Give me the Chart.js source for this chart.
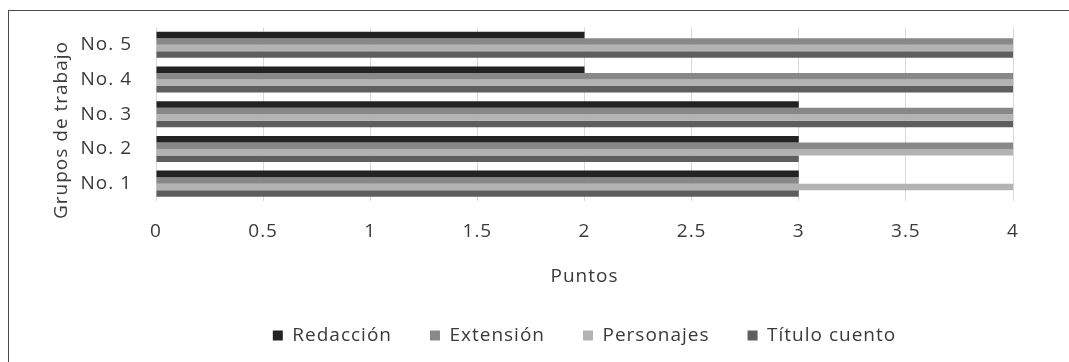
<!DOCTYPE html>
<html>
<head>
<meta charset="utf-8">
<script src="https://cdn.jsdelivr.net/npm/chart.js@4/dist/chart.umd.min.js"></script>
<style>
  html, body { margin: 0; padding: 0; background: #ffffff; }
  #wrap { position: relative; width: 1069px; height: 362px; overflow: hidden; }
  #frame { position: absolute; left: 8px; top: 10px; right: -2px; bottom: -2px;
           border-top: 1px solid #4a4a4a; border-left: 1px solid #4a4a4a; pointer-events: none; }
  canvas { position: absolute; left: 0; top: 0; }
</style>
</head>
<body>
<div id="wrap">
  <canvas id="chart" width="1069" height="362"></canvas>
  <div id="frame"></div>
</div>
<script>
// Groups, top to bottom
const categories = ['No. 5', 'No. 4', 'No. 3', 'No. 2', 'No. 1'];

// Points per criterion
const redaccion    = [2, 2, 3, 3, 3];
const extension    = [4, 4, 4, 4, 3];
const personajes   = [4, 4, 4, 4, 4];
const tituloCuento = [4, 4, 4, 3, 3];

const xTickLabels = ['0', '0.5', '1', '1.5', '2', '2.5', '3', '3.5', '4'];

const FONT = 'Open Sans';
const SIZE = 19;
const TEXT = '#3a3a3a';
const SPACING = '1px';

// Slightly wider letter spacing for all canvas text
const spacingPlugin = {
  id: 'spacing',
  beforeUpdate(chart) { chart.ctx.letterSpacing = SPACING; },
  beforeDraw(chart) { chart.ctx.letterSpacing = SPACING; }
};

// Rotated title for the category axis
const yTitlePlugin = {
  id: 'yTitle',
  afterDraw(chart) {
    const ctx = chart.ctx;
    ctx.save();
    ctx.letterSpacing = SPACING;
    ctx.font = SIZE + 'px "' + FONT + '"';
    ctx.fillStyle = TEXT;
    ctx.textAlign = 'center';
    ctx.textBaseline = 'middle';
    ctx.translate(62, 130);
    ctx.rotate(-Math.PI / 2);
    ctx.fillText('Grupos de trabajo', 0, 0);
    ctx.restore();
  }
};

new Chart(document.getElementById('chart'), {
  type: 'bar',
  data: {
    labels: categories,
    datasets: [
      { label: 'Redacción',     data: redaccion,    backgroundColor: '#232323' },
      { label: 'Extensión',     data: extension,    backgroundColor: '#888888' },
      { label: 'Personajes',    data: personajes,   backgroundColor: '#b3b3b3' },
      { label: 'Título cuento', data: tituloCuento, backgroundColor: '#5e5e5e' }
    ]
  },
  options: {
    indexAxis: 'y',
    responsive: false,
    animation: false,
    layout: { padding: { top: 15, left: 0, right: 56, bottom: 7 } },
    datasets: { bar: { categoryPercentage: 0.75, barPercentage: 1.0, borderWidth: 0 } },
    scales: {
      x: {
        min: 0, max: 4,
        ticks: {
          stepSize: 0.5,
          padding: 19,
          color: TEXT,
          font: { family: FONT, size: SIZE },
          callback: (v, i) => xTickLabels[i]
        },
        grid: { color: '#d9d9d9', lineWidth: 1, tickLength: 0 },
        border: { display: false },
        title: {
          display: true, text: 'Puntos', color: TEXT,
          font: { family: FONT, size: SIZE },
          padding: { top: 10, bottom: 0 }
        },
        afterFit(scale) { scale.height = 87; }
      },
      y: {
        ticks: { padding: 16, color: TEXT, font: { family: FONT, size: SIZE } },
        grid: { display: false },
        border: { display: false },
        afterFit(scale) { scale.width = 156; }
      }
    },
    plugins: {
      legend: {
        position: 'bottom',
        fullSize: false,
        labels: {
          boxWidth: 10, boxHeight: 10, padding: 38,
          color: TEXT, font: { family: FONT, size: SIZE }
        }
      },
      tooltip: { enabled: false }
    }
  },
  plugins: [spacingPlugin, yTitlePlugin]
});
</script>
</body>
</html>
